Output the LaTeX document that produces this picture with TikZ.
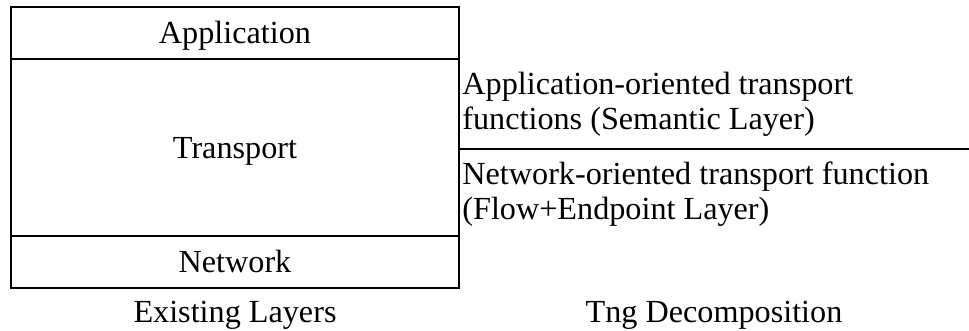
\documentclass[tikz,border=0pt]{standalone}
\usepackage{fontspec}
\setmainfont{Liberation Serif}
\usetikzlibrary{positioning}

\tikzset{
  txt/.style={font=\fontsize{16.1}{17.4}\selectfont},
  % one band of the protocol stack
  layer/.style={txt, draw, line width=0.7pt, minimum width=224pt, inner sep=0pt,
                outer sep=0pt, text height=10.6pt, text depth=0pt},
  func/.style={txt, align=left, inner sep=0pt, anchor=west},
  caption/.style={txt, inner sep=0pt, anchor=base}
}

\begin{document}
\begin{tikzpicture}[x=0.5pt,y=-0.5pt]
  \useasboundingbox (0,0) rectangle (969,331);

  % existing layers, stacked top to bottom
  \node[layer, minimum height=26pt, anchor=north west] (app) at (11,7) {Application};
  \node[layer, minimum height=88.5pt, below=0pt of app] (trans) {Transport};
  \node[layer, minimum height=26pt, below=0pt of trans] (net) {Network};

  % the split of the transport layer
  \node[func] (sem) at (462,104) {Application-oriented transport\\functions (Semantic Layer)};
  \node[func] (flow) at (462,194) {Network-oriented transport function\\(Flow+Endpoint Layer)};
  \coordinate (rim) at (969,149);
  \draw[line width=0.7pt] (trans.east |- rim) -- (rim);

  % captions
  \node[caption] (exist) at (235,322) {Existing Layers};
  \node[caption] (tng) at (714,322) {Tng Decomposition};
\end{tikzpicture}
\end{document}
